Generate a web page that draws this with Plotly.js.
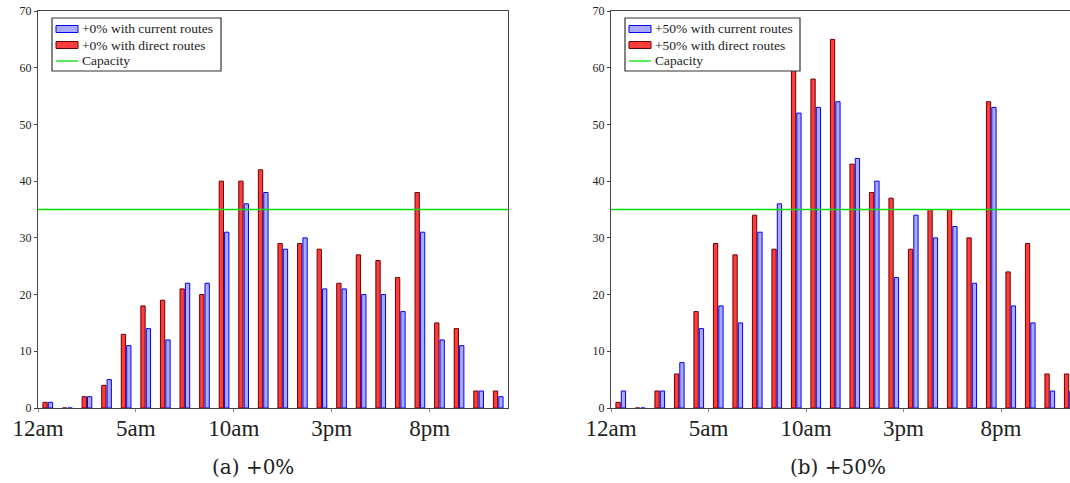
<!DOCTYPE html>
<html>
<head>
<meta charset="utf-8">
<script src="https://cdn.plot.ly/plotly-3.0.1.min.js"></script>
<style>
html,body{margin:0;padding:0;overflow:hidden;background:#fff;}
#chart{width:1080px;height:483px;}
</style>
</head>
<body>
<div id="chart"></div>
<script>
// Hours of the day (bins 0..23)
const hours = [0,1,2,3,4,5,6,7,8,9,10,11,12,13,14,15,16,17,18,19,20,21,22,23];
const tickHours = [0,5,10,15,20];
const tickLabels = ["12am","5am","10am","3pm","8pm"];

// (a) +0%
const directA  = [1,0,2,4,13,18,19,21,20,40,40,42,29,29,28,22,27,26,23,38,15,14,3,3];
const currentA = [1,0,2,5,11,14,12,22,22,31,36,38,28,30,21,21,20,20,17,31,12,11,3,2];
// (b) +50%
const directB  = [1,0,3,6,17,29,27,34,28,60,58,65,43,38,37,28,35,35,30,54,24,29,6,6];
const currentB = [3,0,3,8,14,18,15,31,36,52,53,54,44,40,23,34,30,32,22,53,18,15,3,3];

const capacity = 35;
const capX = [0,24];

const panelLabels = ["+0%", "+50%"];
const captions = ["(a) +0%", "(b) +50%"];

const W = 1080, H = 483, MT = 11, MB = 75;
const PH = H - MT - MB;
const xc = hours.map(h => h + 0.5);
const FONT = "Liberation Serif";
const CFONT = "DejaVu Serif";

const redFill = "rgb(255,60,60)", redLine = "rgb(110,0,0)";
const blueFill = "rgb(170,170,255)", blueLine = "rgb(0,0,255)";
const green = "#00dd00";

function traces(direct, current, label, xa, ya) {
  return [
    {type:"bar", x:xc, y:direct, name:label+" with direct routes", xaxis:xa, yaxis:ya, showlegend:false,
     marker:{color:redFill, line:{color:redLine, width:1}}},
    {type:"bar", x:xc, y:current, name:label+" with current routes", xaxis:xa, yaxis:ya, showlegend:false,
     marker:{color:blueFill, line:{color:blueLine, width:1}}},
    {type:"scatter", mode:"lines", x:capX, y:[capacity, capacity], name:"Capacity", xaxis:xa, yaxis:ya, showlegend:false,
     line:{color:green, width:1.3}}
  ];
}

const data = traces(directA, currentA, panelLabels[0], "x", "y")
  .concat(traces(directB, currentB, panelLabels[1], "x2", "y2"));

const xCommon = {range:[0,24], tickvals:tickHours, ticktext:tickLabels, showline:true, mirror:true,
  linecolor:"#444", linewidth:1, ticks:"outside", ticklen:3, tickcolor:"#888", showgrid:false, zeroline:false,
  ticklabelstandoff:-4,
  tickfont:{family:FONT, size:23, color:"#222"}};
const yCommon = {range:[0,70], dtick:10, showline:true, mirror:true, linecolor:"#444", linewidth:1,
  ticks:"outside", ticklen:3, tickcolor:"#444", showgrid:false, zeroline:false,
  tickfont:{family:FONT, size:12, color:"#222"}, domain:[0,1]};

// pixel -> paper helpers (for the legend box only)
const px = v => v / W;
const py = v => 1 - (v - MT) / PH;

const shapes = [], annotations = [];
function legendBox(x0, x1, label) {
  const y0 = 18, y1 = 71;
  shapes.push({type:"rect", xref:"paper", yref:"paper", x0:px(x0), x1:px(x1), y0:py(y0), y1:py(y1),
    fillcolor:"#fff", line:{color:"#333", width:1.2}, layer:"above"});
  const rows = [
    {kind:"rect", fill:blueFill, line:blueLine, text:label+" with current routes"},
    {kind:"rect", fill:redFill, line:redLine, text:label+" with direct routes"},
    {kind:"line", line:green, text:"Capacity"}
  ];
  rows.forEach((r, i) => {
    const cy = 29 + i * 16;
    if (r.kind === "rect") {
      shapes.push({type:"rect", xref:"paper", yref:"paper", x0:px(x0+4), x1:px(x0+26), y0:py(cy-3.5), y1:py(cy+3.5),
        fillcolor:r.fill, line:{color:r.line, width:1}, layer:"above"});
    } else {
      shapes.push({type:"line", xref:"paper", yref:"paper", x0:px(x0+4), x1:px(x0+26), y0:py(cy), y1:py(cy),
        line:{color:r.line, width:1.3}, layer:"above"});
    }
    annotations.push({text:r.text, xref:"paper", yref:"paper", x:px(x0+28), y:py(cy), xanchor:"left", yanchor:"middle",
      showarrow:false, font:{family:FONT, size:13.5, color:"#222"}});
  });
}
legendBox(52, 221, panelLabels[0]);
legendBox(625, 800, panelLabels[1]);

annotations.push(
  {text:captions[0], xref:"paper", yref:"paper", x:px(253), y:py(467), xanchor:"center", yanchor:"middle",
   showarrow:false, font:{family:CFONT, size:20, color:"#222"}},
  {text:captions[1], xref:"paper", yref:"paper", x:px(838), y:py(467), xanchor:"center", yanchor:"middle",
   showarrow:false, font:{family:CFONT, size:20, color:"#222"}}
);

const layout = {
  width:W, height:H, margin:{l:0, r:0, t:MT, b:MB},
  paper_bgcolor:"#fff", plot_bgcolor:"#fff",
  barmode:"group", bargap:0.45, bargroupgap:0.2,
  xaxis:Object.assign({}, xCommon, {domain:[38/W, 508/W], anchor:"y"}),
  yaxis:Object.assign({}, yCommon, {anchor:"x"}),
  xaxis2:Object.assign({}, xCommon, {domain:[611/W, 1079/W], anchor:"y2"}),
  yaxis2:Object.assign({}, yCommon, {anchor:"x2"}),
  showlegend:false,
  shapes:shapes,
  annotations:annotations
};

Plotly.newPlot("chart", data, layout, {displayModeBar:false, staticPlot:true});
</script>
</body>
</html>
